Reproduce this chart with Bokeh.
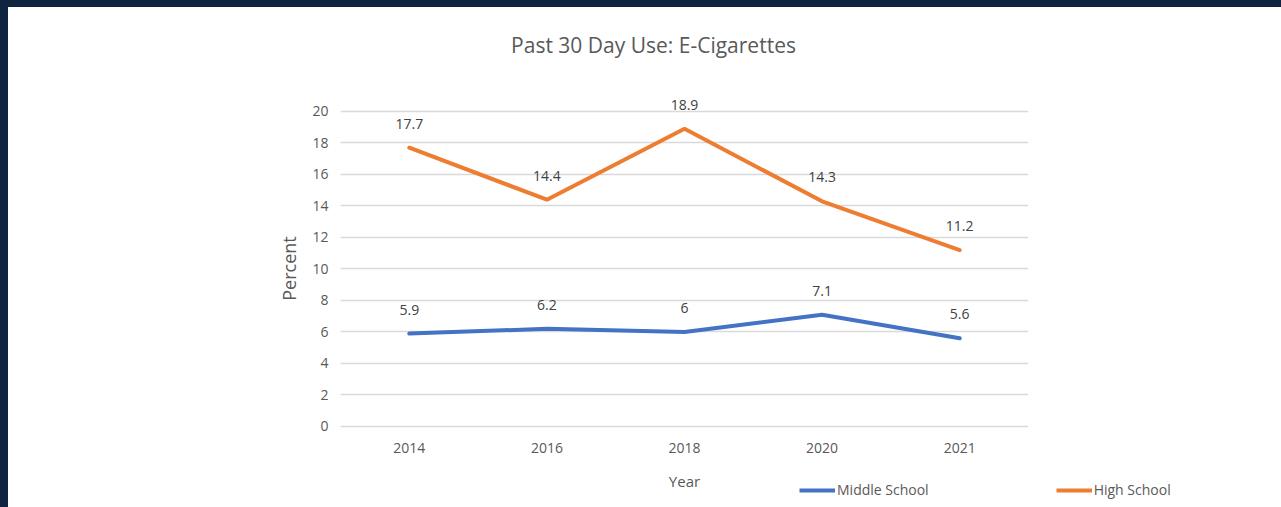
from bokeh.plotting import figure
from bokeh.models import (ColumnDataSource, LabelSet, Legend, LegendItem, FixedTicker,
                          Range1d, FactorRange, Label)
from bokeh.core.properties import value
from bokeh.layouts import column
from bokeh.embed import file_html
from bokeh.resources import INLINE

years = ["2014", "2016", "2018", "2020", "2021"]
middle_school = [5.9, 6.2, 6.0, 7.1, 5.6]
high_school = [17.7, 14.4, 18.9, 14.3, 11.2]
middle_labels = ["5.9", "6.2", "6", "7.1", "5.6"]
high_labels = ["17.7", "14.4", "18.9", "14.3", "11.2"]
y_ticks = [0, 2, 4, 6, 8, 10, 12, 14, 16, 18, 20]

FONT = "Open Sans"
GRAY = "#595959"
BLUE = "#4472C4"
ORANGE = "#ED7D31"
W = 1273


def no_align(f):
    try:
        f.frame_align = False
    except Exception:
        pass


def bare(h, y0=0):
    f = figure(width=W, height=h, x_range=Range1d(0, W), y_range=Range1d(y0, y0 + h),
               x_axis_type=None, y_axis_type=None, output_backend="svg",
               toolbar_location=None, min_border=0)
    f.outline_line_color = None
    f.xgrid.visible = False
    f.ygrid.visible = False
    f.background_fill_color = "white"
    f.border_fill_color = "white"
    no_align(f)
    return f


src = ColumnDataSource(dict(year=years, ms=middle_school, hs=high_school,
                            ms_lab=middle_labels, hs_lab=high_labels))

# ---- title strip
top = bare(75)
top.add_layout(Label(x=645, y=38, text="Past 30 Day Use: E-Cigarettes",
                     text_align="center", text_baseline="middle",
                     text_font=FONT, text_font_size="21px", text_color=GRAY))

# ---- main chart
p = figure(width=W, height=380,
           x_range=FactorRange(*years, range_padding=0),
           y_range=Range1d(-0.889, 20.952),
           output_backend="svg", toolbar_location=None,
           min_border_left=332, min_border_right=253,
           min_border_top=14, min_border_bottom=22)
p.outline_line_color = None
p.background_fill_color = "white"
p.border_fill_color = "white"
no_align(p)

r_ms = p.line("year", "ms", source=src, line_color=BLUE, line_width=4, line_cap="round")
r_hs = p.line("year", "hs", source=src, line_color=ORANGE, line_width=4, line_cap="round")

for col, lab in (("ms", "ms_lab"), ("hs", "hs_lab")):
    p.add_layout(LabelSet(x="year", y=col, text=lab, source=src, y_offset=24,
                          text_align="center", text_baseline="middle",
                          text_font=value(FONT), text_font_size="14px", text_color="#404040"))

p.yaxis.ticker = FixedTicker(ticks=y_ticks)
p.ygrid.ticker = FixedTicker(ticks=y_ticks)
p.ygrid.grid_line_color = "#d9d9d9"
p.ygrid.grid_line_width = 1.5
p.xgrid.grid_line_color = None
for ax in (p.xaxis[0], p.yaxis[0]):
    ax.axis_line_color = None
    ax.major_tick_line_color = None
    ax.minor_tick_line_color = None
    ax.major_tick_out = 0
    ax.major_tick_in = 0
    ax.major_label_text_font = FONT
    ax.major_label_text_font_size = "14px"
    ax.major_label_text_color = GRAY
    ax.axis_label_text_font = FONT
    ax.axis_label_text_color = GRAY
p.yaxis.major_label_standoff = 12
p.xaxis.major_label_standoff = 2
p.yaxis.axis_label = "Percent"
p.yaxis.axis_label_text_font_size = "18px"
p.yaxis.axis_label_text_font_style = "normal"
p.yaxis.axis_label_standoff = 8

# ---- bottom strip: x-axis title and legend
# (its y range lies below zero, so the series drawn here only feed the legend keys)
bot = bare(45, y0=-45)
bot.add_layout(Label(x=676, y=-18, text="Year", text_align="center", text_baseline="middle",
                     text_font=FONT, text_font_size="15px", text_color=GRAY))
k_ms = bot.line("ms", "ms", source=src, line_color=BLUE, line_width=4)
k_hs = bot.line("hs", "hs", source=src, line_color=ORANGE, line_width=4)
legend = Legend(items=[LegendItem(label="Middle School", renderers=[k_ms]),
                       LegendItem(label="High School", renderers=[k_hs])],
                location=(791, 8), orientation="horizontal",
                glyph_width=36, glyph_height=16, label_standoff=2, spacing=127,
                padding=0, margin=0, border_line_color=None, background_fill_alpha=0,
                label_text_font=FONT, label_text_font_size="14px", label_text_color=GRAY)
bot.add_layout(legend)

inner = column(top, p, bot, styles={"background-color": "white"})
layout = column(inner, styles={"background-color": "#10233f", "padding": "7px 0 0 8px"})

open("out.html", "w").write(file_html(layout, INLINE))
